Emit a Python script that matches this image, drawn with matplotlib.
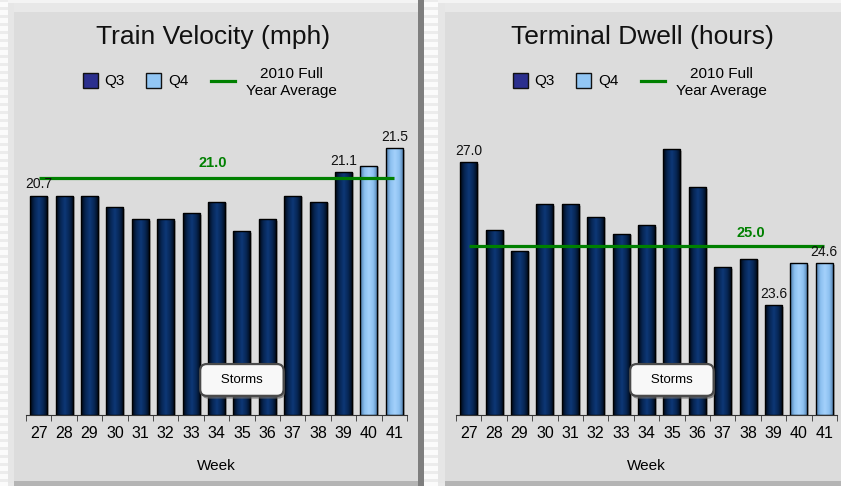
import numpy as np
import matplotlib
matplotlib.use("Agg")
import matplotlib.pyplot as plt
from matplotlib.patches import Rectangle
from matplotlib.lines import Line2D
from matplotlib.colors import LinearSegmentedColormap
import matplotlib.patheffects as pe
import matplotlib.transforms as mtrans

plt.rcParams['font.family'] = ['Liberation Sans', 'DejaVu Sans']

# weekly data
weeks = [27, 28, 29, 30, 31, 32, 33, 34, 35, 36, 37, 38, 39, 40, 41]
quarter = ['Q3'] * 13 + ['Q4'] * 2

velocity = [20.7, 20.7, 20.7, 20.5, 20.3, 20.3, 20.4, 20.6, 20.1, 20.3, 20.7, 20.6, 21.1, 21.2, 21.5]
velocity_avg = 21.0
velocity_labeled = [0, 12, 14]

dwell = [27.0, 25.4, 24.9, 26.0, 26.0, 25.7, 25.3, 25.5, 27.3, 26.4, 24.5, 24.7, 23.6, 24.6, 24.6]
dwell_avg = 25.0
dwell_labeled = [0, 12, 14]

W, H = 841, 486
fig = plt.figure(figsize=(W / 100, H / 100), dpi=100, facecolor='#e8e8e8')


def fx(x):
    return x / W


def fy(y):
    return 1 - y / H


def rect(x0, y0, x1, y1, color, z=-10):
    fig.patches.append(Rectangle((fx(x0), fy(y1)), fx(x1 - x0), (y1 - y0) / H,
                                 transform=fig.transFigure, facecolor=color,
                                 edgecolor='none', zorder=z))


# frame: striped margins, bevels, panels, divider
rect(0, 0, W, 3, '#f4f4f4')
for x0, x1 in [(0, 8), (424, 438)]:
    rect(x0, 0, x1, H, '#ececec')
    for y in range(2, H, 8):
        rect(x0, y, x1, y + 5, '#fbfbfb')
rect(8, 3, 14, 483, '#e6e6e6')
rect(438, 3, 445, 483, '#e6e6e6')
rect(14, 12, 418, 481, '#dcdcdc')
rect(445, 12, W, 481, '#dcdcdc')
rect(14, 481, 418, H, '#b4b4b4')
rect(445, 481, W, H, '#b4b4b4')
rect(418, 0, 424, H, '#7e7e7e')

dark_cmap = LinearSegmentedColormap.from_list(
    'q3', ['#000814', '#072654', '#0d3877', '#072654', '#000814'])
light_cmap = LinearSegmentedColormap.from_list(
    'q4', ['#4d7aa8', '#8cc0f0', '#a4d1fb', '#8cc0f0', '#4d7aa8'])
grad = np.linspace(0, 1, 64).reshape(1, -1)


def panel(ax, values, ymin, ymax, avg):
    x = np.arange(len(values))
    heights = [v - ymin for v in values]
    width = 0.67
    shade = ax.bar(x, heights, width, bottom=ymin, color='#1e3c70', edgecolor='none', zorder=2,
                   path_effects=[pe.SimplePatchShadow(offset=(1.5, -1), shadow_rgbFace='#888888', alpha=0.6),
                                 pe.Normal()])
    for b, q in zip(shade, quarter):
        cmap = dark_cmap if q == 'Q3' else light_cmap
        im = ax.imshow(grad, cmap=cmap, aspect='auto', zorder=2.5,
                       extent=(b.get_x(), b.get_x() + b.get_width(), ymin, b.get_y() + b.get_height()))
        im.set_clip_path(b)
    ax.bar(x, heights, width, bottom=ymin, facecolor='none', edgecolor='#000000', linewidth=1, zorder=3)

    ax.set_xlim(-0.5, len(values) - 0.5)
    ax.set_ylim(ymin, ymax)
    ax.patch.set_visible(False)
    for s in ['top', 'right', 'left']:
        ax.spines[s].set_visible(False)
    ax.spines['bottom'].set_color('#333333')
    ax.set_yticks([])
    ax.set_xticks(x)
    ax.set_xticklabels([str(w) for w in weeks], fontsize=11.5)
    ax.set_xticks(np.arange(len(values) + 1) - 0.5, minor=True)
    ax.tick_params(axis='x', which='major', length=0, pad=8)
    ax.tick_params(axis='x', which='minor', length=4, color='#333333')
    ax.set_xlabel('Week', fontsize=11, labelpad=13)

    # full-year average line
    ax.plot([0, len(values) - 1], [avg, avg], color='#008000', lw=2.3, zorder=4, solid_capstyle='butt')


def labels(ax, values, labeled):
    for i in labeled:
        ax.annotate(f'{values[i]:.1f}', (i, values[i]), xytext=(0, 3), textcoords='offset points',
                    ha='center', va='bottom', fontsize=10, color='#111111', zorder=5)


def storms(ax):
    tr = mtrans.blended_transform_factory(ax.transData, ax.transAxes)
    t = ax.text(8, 0.123, '   Storms   ', transform=tr, ha='center', va='center', fontsize=9.5, zorder=6,
                bbox=dict(boxstyle='round,pad=0.75,rounding_size=0.5', facecolor='#f8f8f8',
                          edgecolor='#4a4a4a', linewidth=1.6))
    t.get_bbox_patch().set_path_effects(
        [pe.SimplePatchShadow(offset=(1, -2), shadow_rgbFace='#666666', alpha=0.7), pe.Normal()])


def legend(dx):
    fig.patches.append(Rectangle((fx(83 + dx), fy(88)), fx(15), 15 / H, transform=fig.transFigure,
                                 facecolor='#2b2f8e', edgecolor='#111111', lw=1, zorder=5))
    fig.text(fx(104 + dx), fy(81), 'Q3', fontsize=11, va='center', ha='left')
    fig.patches.append(Rectangle((fx(146 + dx), fy(88)), fx(15), 15 / H, transform=fig.transFigure,
                                 facecolor='#92c6f4', edgecolor='#111111', lw=1, zorder=5))
    fig.text(fx(168 + dx), fy(81), 'Q4', fontsize=11, va='center', ha='left')
    fig.lines.append(Line2D([fx(211 + dx), fx(235 + dx)], [fy(81), fy(81)], transform=fig.transFigure,
                            color='#008000', lw=2.3))
    fig.text(fx(291 + dx), fy(82.5), '2010 Full\nYear Average', fontsize=11, va='center', ha='center',
             multialignment='center')


axL = fig.add_axes([fx(26), 71 / H, 381 / W, 285 / H])
axR = fig.add_axes([fx(456), 71 / H, 381 / W, 285 / H])

panel(axL, velocity, 17.0, 21.806, velocity_avg)
panel(axR, dwell, 21.0, 27.762, dwell_avg)
labels(axL, velocity, velocity_labeled)
labels(axR, dwell, dwell_labeled)

axL.annotate(f'{velocity_avg:.1f}', (6.85, velocity_avg), xytext=(0, 11), textcoords='offset points',
             ha='center', va='center', fontsize=10.5, fontweight='bold', color='#008000', zorder=5)
axR.annotate(f'{dwell_avg:.1f}', (11.1, dwell_avg), xytext=(0, 10), textcoords='offset points',
             ha='center', va='center', fontsize=10.5, fontweight='bold', color='#008000', zorder=5)

storms(axL)
storms(axR)

fig.text(fx(213), fy(37), 'Train Velocity (mph)', fontsize=19, ha='center', va='center', color='#111111')
fig.text(fx(642), fy(37), 'Terminal Dwell (hours)', fontsize=19, ha='center', va='center', color='#111111')
legend(0)
legend(430)

fig.savefig('out.png', dpi=100, facecolor=fig.get_facecolor())
